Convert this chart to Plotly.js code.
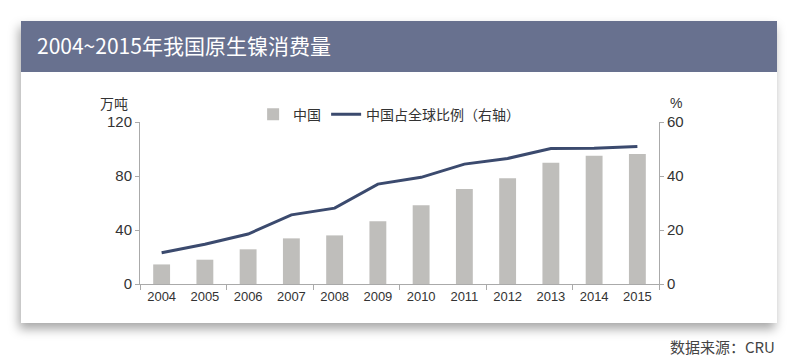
<!DOCTYPE html>
<html><head><meta charset="utf-8">
<script src="https://cdn.plot.ly/plotly-3.0.1.min.js"></script>
<style>
html,body{margin:0;padding:0;background:#fff;}
#wrap{position:relative;width:792px;height:361px;overflow:hidden;}
#card{position:absolute;left:21px;top:21px;width:756px;height:302px;background:#fff;box-shadow:-2px 6px 10px rgba(0,0,0,0.35);}
#band{position:absolute;left:21px;top:21px;width:756px;height:51px;background:#68718f;}
#chart{position:absolute;left:0;top:0;width:792px;height:361px;}
</style></head>
<body><div id="wrap"><div id="card"></div><div id="band"></div><div id="chart"></div></div>
<script>
const years = [2004,2005,2006,2007,2008,2009,2010,2011,2012,2013,2014,2015];
const chinaConsumption = [14.5,18,25.7,33.8,36,46.4,58.3,70.4,78.3,89.9,95,96.3];
const globalShare = [11.6,14.7,18.5,25.6,28.1,37,39.5,44.4,46.5,50.2,50.3,50.9];
const barName = '中国';
const lineName = '中国占全球比例（右轴）';
const titleText = '2004~2015年我国原生镍消费量';
const sourceText = '数据来源：CRU';

const fontFam = '"Liberation Sans","Noto Sans CJK SC",sans-serif';
const data = [
  {type:'bar', x:years, y:chinaConsumption, name:barName, marker:{color:'#bfbebb'}, width:0.39, yaxis:'y'},
  {type:'scatter', mode:'lines', x:years, y:globalShare, name:lineName, line:{color:'#3b4a6e', width:3}, yaxis:'y2'}
];
const layout = {
  width:792, height:361,
  margin:{l:140, r:133, t:122, b:77},
  paper_bgcolor:'rgba(0,0,0,0)', plot_bgcolor:'rgba(0,0,0,0)',
  font:{family:fontFam, color:'#333', size:14},
  title:{text:titleText, xref:'container', yref:'container', x:37/792, xanchor:'left', y:1-47/361, yanchor:'middle',
    font:{family:'"Noto Sans CJK SC",sans-serif', size:21, color:'#ffffff'}},
  showlegend:true,
  legend:{orientation:'h', x:0.48, xanchor:'center', y:1.045, yanchor:'middle', font:{size:14, color:'#333', family:'"Noto Sans CJK SC",sans-serif'}, itemwidth:30, bgcolor:'rgba(0,0,0,0)'},
  xaxis:{range:[2003.5,2015.5], tickmode:'linear', tick0:2004, dtick:1, ticks:'', tickformat:'d',
    showline:true, linecolor:'#aaaaaa', linewidth:1, showgrid:false, zeroline:false,
    tickfont:{size:13, color:'#333'},
    minor:{ticks:'outside', tick0:2003.5, dtick:2, ticklen:5, tickcolor:'#aaaaaa', showgrid:false}},
  yaxis:{range:[0,120], tickvals:[0,40,80,120], ticks:'outside', ticklen:4, tickcolor:'#aaaaaa',
    showline:true, linecolor:'#aaaaaa', showgrid:false, zeroline:false, tickfont:{size:15, color:'#333'}},
  yaxis2:{range:[0,60], tickvals:[0,20,40,60], overlaying:'y', side:'right', ticks:'outside', ticklen:4, tickcolor:'#aaaaaa',
    showline:true, linecolor:'#aaaaaa', showgrid:false, zeroline:false, tickfont:{size:15, color:'#333'}},
  annotations:[
    {text:'万吨', xref:'paper', yref:'paper', x:-0.02, y:1.12, xanchor:'right', yanchor:'middle', showarrow:false,
      font:{size:14, color:'#333', family:'"Noto Sans CJK SC",sans-serif'}},
    {text:'%', xref:'paper', yref:'paper', x:1.018, y:1.12, xanchor:'left', yanchor:'middle', showarrow:false,
      font:{size:14, color:'#333'}},
    {text:sourceText, xref:'paper', yref:'paper', x:(777-140)/519, y:(284-346)/162, xanchor:'right', yanchor:'middle', showarrow:false,
      font:{size:15, color:'#444', family:'"Noto Sans CJK SC",sans-serif'}}
  ]
};
Plotly.newPlot('chart', data, layout, {displayModeBar:false, staticPlot:true});
</script></body></html>
